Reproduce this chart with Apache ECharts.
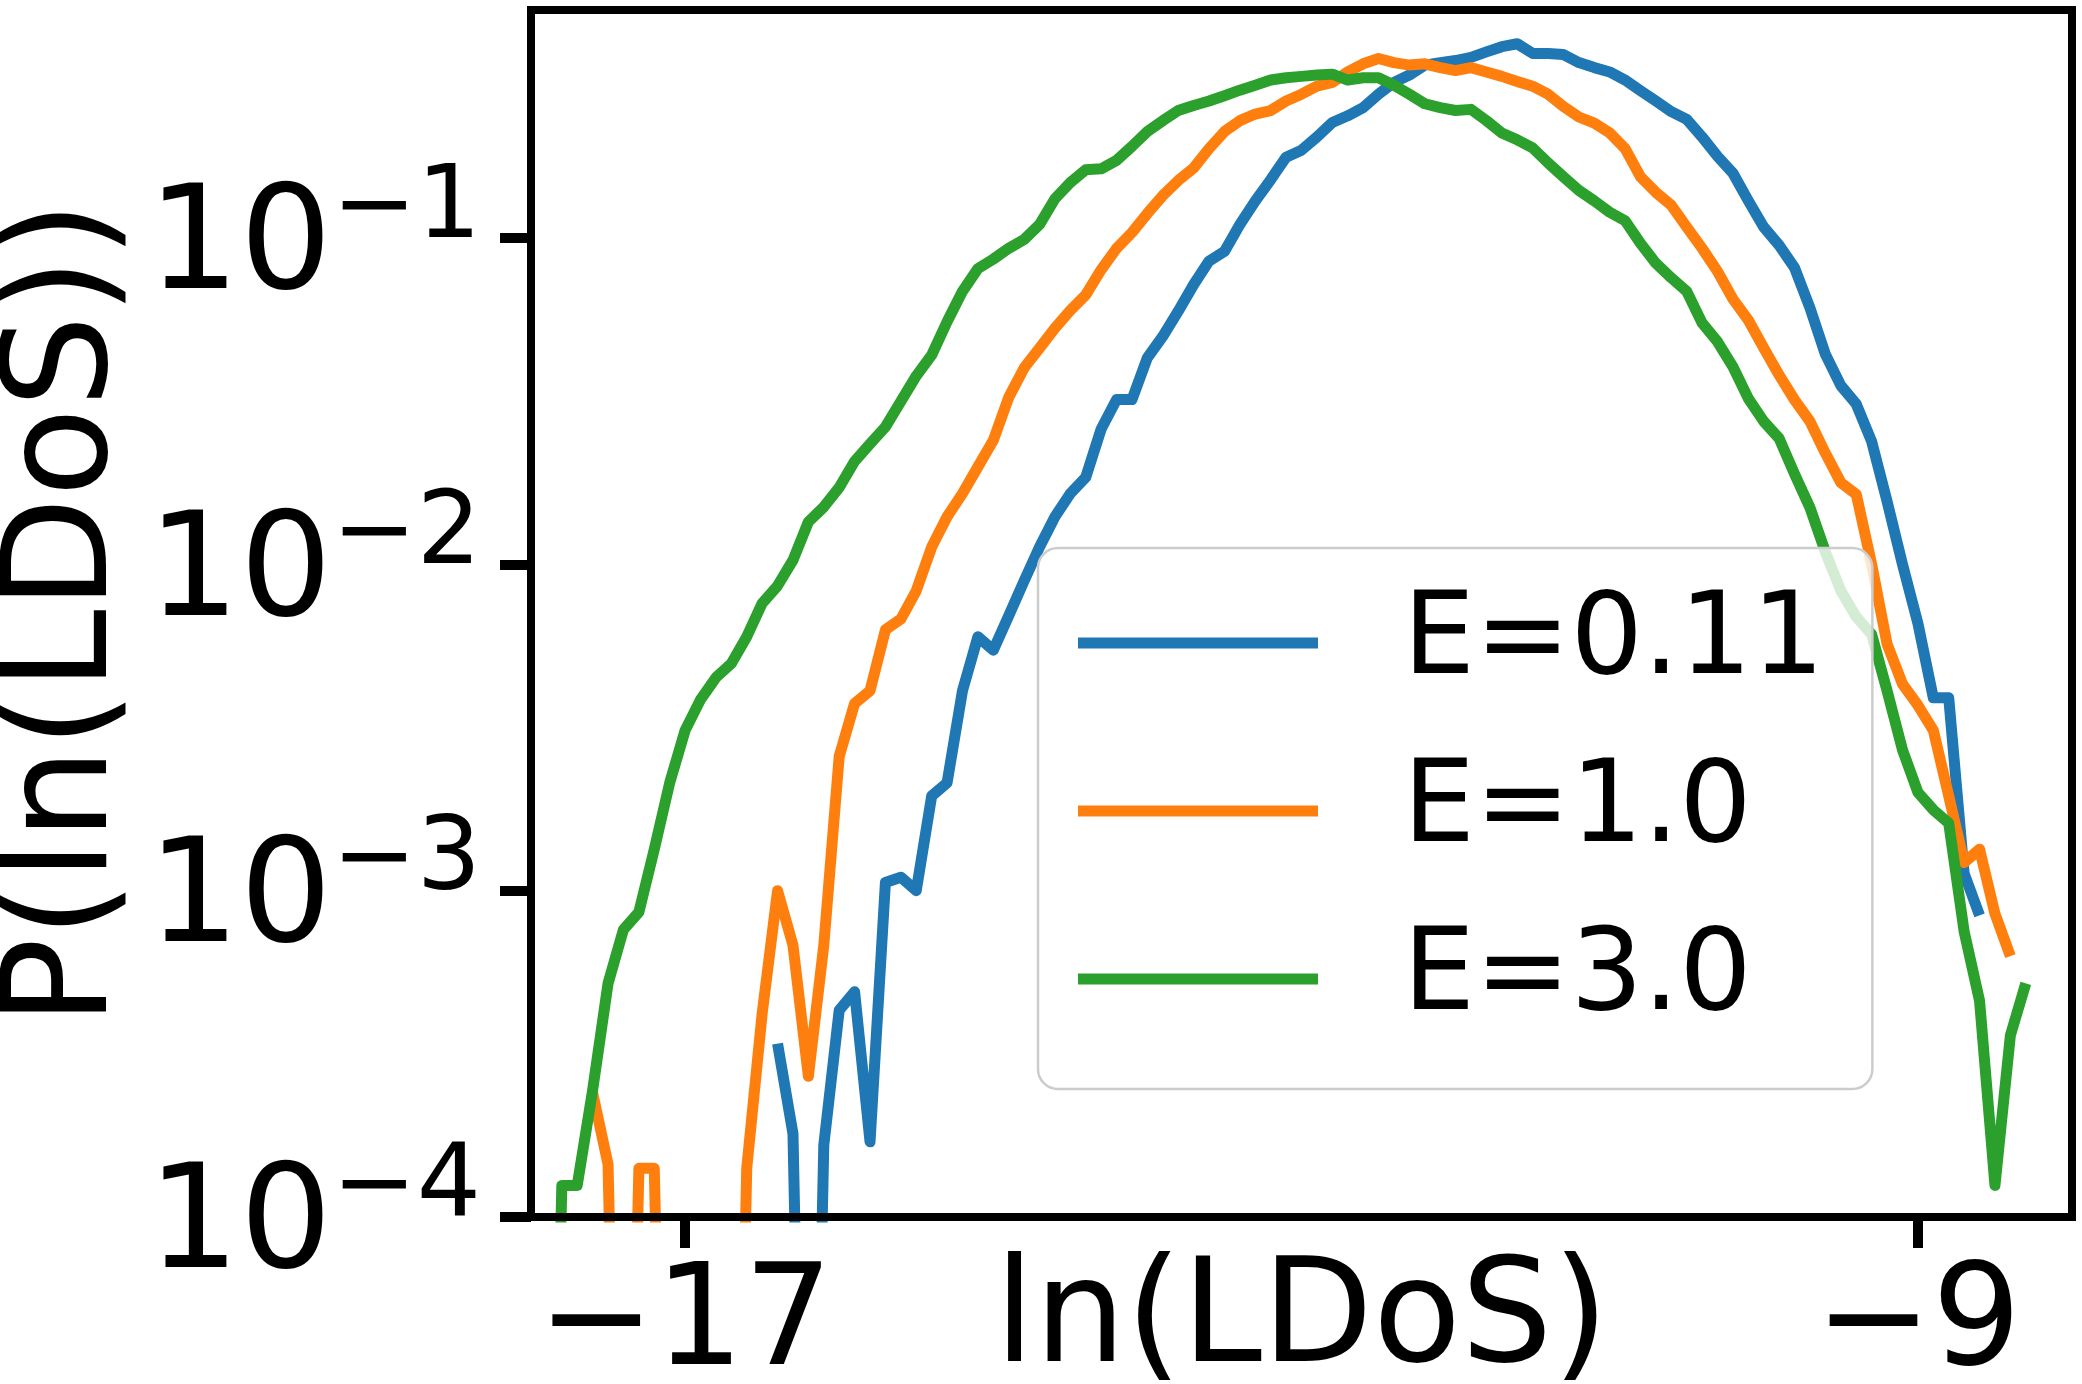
<!DOCTYPE html>
<html>
<head>
<meta charset="utf-8">
<title>P(ln(LDoS))</title>
<script src="https://cdn.jsdelivr.net/npm/echarts@6/dist/echarts.min.js"></script>
<style>
  html, body { margin: 0; padding: 0; background: #ffffff; }
  #chart { width: 2082px; height: 1384px; }
</style>
</head>
<body>
<div id="chart"></div>
<script>
// histogram bin positions, ln(LDoS)
var lnLdos = [
  -18.0, -17.9, -17.8, -17.7, -17.6, -17.5, -17.4, -17.3, -17.2, -17.1,
  -17.0, -16.9, -16.8, -16.7, -16.6, -16.5, -16.4, -16.3, -16.2, -16.1,
  -16.0, -15.9, -15.8, -15.7, -15.6, -15.5, -15.4, -15.3, -15.2, -15.1,
  -15.0, -14.9, -14.8, -14.7, -14.6, -14.5, -14.4, -14.3, -14.2, -14.1,
  -14.0, -13.9, -13.8, -13.7, -13.6, -13.5, -13.4, -13.3, -13.2, -13.1,
  -13.0, -12.9, -12.8, -12.7, -12.6, -12.5, -12.4, -12.3, -12.2, -12.1,
  -12.0, -11.9, -11.8, -11.7, -11.6, -11.5, -11.4, -11.3, -11.2, -11.1,
  -11.0, -10.9, -10.8, -10.7, -10.6, -10.5, -10.4, -10.3, -10.2, -10.1,
  -10.0, -9.9, -9.8, -9.7, -9.6, -9.5, -9.4, -9.3, -9.2, -9.1,
  -9.0, -8.9, -8.8, -8.7, -8.6, -8.5, -8.4, -8.3, -8.2, -8.1,
  -8.0
];

// P(ln(LDoS)); 0 = empty bin, null = no data
var pE011 = [
  null, null, null, null, null, null, null, null, null, null,
  null, null, null, null, null, null, 3.4e-4, 1.8e-4, 0, 1.66e-4,
  4.3e-4, 4.9e-4, 1.7e-4, 1.06e-3, 1.1e-3, 1.0e-3, 1.95e-3, 2.14e-3, 4.1e-3, 6.0e-3,
  5.46e-3, 6.96e-3, 8.9e-3, 0.0113, 0.014, 0.0165, 0.0185, 0.026, 0.032, 0.032,
  0.043, 0.050, 0.0597, 0.072, 0.085, 0.091, 0.110, 0.130, 0.151, 0.177,
  0.186, 0.204, 0.226, 0.237, 0.251, 0.276, 0.300, 0.316, 0.339, 0.345,
  0.350, 0.358, 0.372, 0.386, 0.394, 0.368, 0.368, 0.365, 0.345, 0.333,
  0.323, 0.305, 0.283, 0.263, 0.244, 0.231, 0.204, 0.178, 0.158, 0.130,
  0.108, 0.095, 0.081, 0.061, 0.044, 0.0353, 0.031, 0.0238, 0.0156, 0.0100,
  0.0066, 0.0039, 0.0039, 1.13e-3, 8.4e-4, null, null, null, null, null,
  null
];
var pE10 = [
  null, null, null, null, 2.4e-4, 1.45e-4, 0, 1.41e-4, 1.41e-4, 0,
  0, 0, 0, 0, 1.41e-4, 4.2e-4, 1.0e-3, 6.8e-4, 2.7e-4, 6.8e-4,
  2.58e-3, 3.75e-3, 4.1e-3, 6.3e-3, 6.8e-3, 8.3e-3, 0.0113, 0.014, 0.0165, 0.0199,
  0.024, 0.0325, 0.040, 0.046, 0.053, 0.060, 0.067, 0.080, 0.093, 0.104,
  0.119, 0.135, 0.150, 0.164, 0.188, 0.212, 0.229, 0.240, 0.246, 0.263,
  0.276, 0.292, 0.300, 0.323, 0.342, 0.355, 0.345, 0.339, 0.342, 0.333,
  0.326, 0.333, 0.323, 0.313, 0.302, 0.292, 0.276, 0.253, 0.235, 0.225,
  0.210, 0.188, 0.154, 0.138, 0.126, 0.108, 0.093, 0.079, 0.065, 0.056,
  0.046, 0.038, 0.0319, 0.0274, 0.0219, 0.0178, 0.0164, 0.0100, 0.0057, 0.0043,
  0.0037, 0.0031, 1.95e-3, 1.22e-3, 1.34e-3, 8.5e-4, 6.3e-4, null, null, null,
  null
];
var pE30 = [
  0, 0, 1.25e-4, 1.25e-4, 2.45e-4, 5.2e-4, 7.6e-4, 8.6e-4, 1.34e-3, 2.14e-3,
  3.1e-3, 3.85e-3, 4.5e-3, 4.97e-3, 6.0e-3, 7.6e-3, 8.6e-3, 0.0103, 0.0135, 0.0150,
  0.0172, 0.0207, 0.0234, 0.0264, 0.0316, 0.0378, 0.0438, 0.0554, 0.0687, 0.0806,
  0.0862, 0.093, 0.099, 0.110, 0.132, 0.148, 0.162, 0.163, 0.173, 0.191,
  0.212, 0.229, 0.246, 0.255, 0.263, 0.273, 0.284, 0.294, 0.305, 0.310,
  0.313, 0.316, 0.318, 0.305, 0.310, 0.310, 0.294, 0.276, 0.258, 0.251,
  0.246, 0.248, 0.229, 0.210, 0.200, 0.189, 0.170, 0.154, 0.140, 0.130,
  0.120, 0.113, 0.0963, 0.0837, 0.0755, 0.0687, 0.0549, 0.0481, 0.0403, 0.0322,
  0.0274, 0.0243, 0.0189, 0.0149, 0.0109, 0.0083, 0.0069, 0.0061, 0.0041, 0.0027,
  0.0020, 1.77e-3, 1.61e-3, 7.5e-4, 4.6e-4, 1.25e-4, 3.6e-4, 5.2e-4, null, null,
  null
];

var seriesNames = ['E=0.11', 'E=1.0', 'E=3.0'];
var seriesData = [pE011, pE10, pE30];
var seriesColors = ['#1f77b4', '#ff7f0e', '#2ca02c'];
var xTicks = [-17, -9];
var yTicks = [1e-4, 1e-3, 1e-2, 1e-1];

var FONT = 'DejaVu Sans';
// empty bins go far below the axis so the line falls off the bottom
var EMPTY_BIN = 1e-6;

var chart = echarts.init(document.getElementById('chart'));

var series = [];
for (var s = 0; s < seriesNames.length; s++) {
  var pts = [];
  for (var i = 0; i < lnLdos.length; i++) {
    var v = seriesData[s][i];
    pts.push([lnLdos[i], v === null ? null : (v === 0 ? EMPTY_BIN : v)]);
  }
  series.push({
    name: seriesNames[s],
    type: 'line',
    data: pts,
    color: seriesColors[s],
    showSymbol: false,
    symbol: 'none',
    connectNulls: false,
    clip: true,
    lineStyle: { color: seriesColors[s], width: 11, join: 'round' }
  });
}

function minus(v) {
  return (v < 0 ? '\u2212' : '') + Math.abs(v);
}

var options = {
  animation: false,
  backgroundColor: '#ffffff',
  grid: {
    left: 531, top: 10, right: 10, bottom: 167,
    show: true, borderColor: '#000', borderWidth: 8,
    outerBoundsMode: 'none'
  },
  legend: {
    orient: 'vertical',
    left: 1038, top: 548,
    padding: [38, 48, 53, 40],
    itemWidth: 240, itemHeight: 11, itemGap: 54,
    icon: 'rect',
    selectedMode: false,
    backgroundColor: 'rgba(255,255,255,0.8)',
    borderColor: '#cccccc', borderWidth: 2.5, borderRadius: 20,
    textStyle: { fontFamily: FONT, fontSize: 114, lineHeight: 114, color: '#000', padding: [0, 0, 0, 80] },
    data: seriesNames
  },
  xAxis: {
    type: 'value', min: -18, max: -8,
    z: 10,
    axisLine: { show: true, onZero: false, lineStyle: { color: '#000', width: 8 } },
    axisTick: { show: true, length: 31, customValues: xTicks, lineStyle: { color: '#000', width: 10 } },
    axisLabel: {
      customValues: xTicks, margin: 41,
      fontFamily: FONT, fontSize: 140, color: '#000',
      formatter: minus
    },
    splitLine: { show: false },
    name: 'ln(LDoS)', nameLocation: 'middle', nameGap: 35, nameMoveOverlap: false,
    nameTextStyle: { fontFamily: FONT, fontSize: 144, color: '#000' }
  },
  yAxis: {
    type: 'log', logBase: 10, min: 1e-4, max: 0.5,
    z: 10,
    axisLine: { show: true, onZero: false, lineStyle: { color: '#000', width: 8 } },
    axisTick: { show: true, length: 31, customValues: yTicks, lineStyle: { color: '#000', width: 10 } },
    minorTick: { show: false },
    axisLabel: {
      customValues: yTicks, margin: 50,
      padding: [0, 0, 20, 0],
      formatter: function (v) {
        var e = Math.round(Math.log(v) / Math.LN10);
        return '{b|10}{s|' + minus(e) + '}';
      },
      rich: {
        b: { fontFamily: FONT, fontSize: 145, color: '#000', lineHeight: 190, verticalAlign: 'bottom' },
        s: { fontFamily: FONT, fontSize: 101, color: '#000', lineHeight: 100, verticalAlign: 'bottom', padding: [0, 0, 62, 0] }
      }
    },
    splitLine: { show: false },
    name: 'P(ln(LDoS))', nameLocation: 'middle', nameRotate: 90, nameGap: 390, nameMoveOverlap: false,
    nameTextStyle: { fontFamily: FONT, fontSize: 146, color: '#000' }
  },
  series: series
};

chart.setOption(options);
</script>
</body>
</html>
